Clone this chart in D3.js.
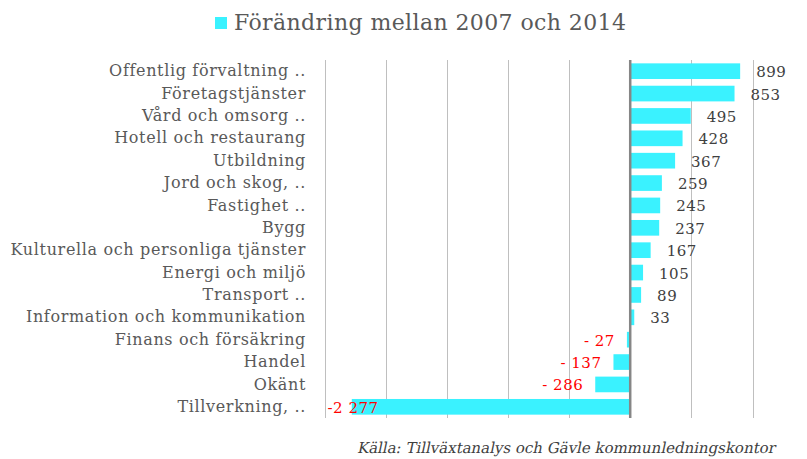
<!DOCTYPE html>
<html>
<head>
<meta charset="utf-8">
<script src="https://cdn.jsdelivr.net/npm/d3@7"></script>
<style>
  body { margin: 0; background: #fff; }
  svg { display: block; font-family: "DejaVu Serif", serif; }
</style>
</head>
<body>
<div id="chart"></div>
<script>
const width = 807, height = 459

const categories = [
    "Offentlig förvaltning ..", "Företagstjänster", "Vård och omsorg ..",
    "Hotell och restaurang", "Utbildning", "Jord och skog, ..", "Fastighet ..",
    "Bygg", "Kulturella och personliga tjänster", "Energi och miljö",
    "Transport ..", "Information och kommunikation", "Finans och försäkring",
    "Handel", "Okänt", "Tillverkning, .."
]
const values = [899, 853, 495, 428, 367, 259, 245, 237, 167, 105, 89, 33, -27, -137, -286, -2277]
const gridTicks = [-2500, -2000, -1500, -1000, -500, 0, 500, 1000]
const seriesName = "Förändring mellan 2007 och 2014"
const source = "Källa: Tillväxtanalys och Gävle kommunledningskontor"

const data = categories.map((c, i) => ({ cat: c, value: values[i] }))

const margin = { top: 60, right: 54, bottom: 41, left: 324.5 }
const barColor = "#3af2ff"

const svg = d3.select("#chart")
    .append("svg")
    .attr("width", width)
    .attr("height", height)

const x = d3.scaleLinear()
    .domain([-2500, 1000])
    .range([margin.left, width - margin.right - 0.5])

const y = d3.scaleBand()
    .domain(categories)
    .range([margin.top, height - margin.bottom])
    .paddingInner(0.3)
    .paddingOuter(0.15)

// gridlines
svg.append("g")
    .selectAll("line")
    .data(gridTicks.filter(t => t !== 0))
    .join("line")
    .attr("x1", d => Math.round(x(d)) + 0.5)
    .attr("x2", d => Math.round(x(d)) + 0.5)
    .attr("y1", margin.top)
    .attr("y2", height - margin.bottom)
    .attr("stroke", "#bfbfbf")
    .attr("stroke-width", 1)

// bars
svg.append("g")
    .selectAll("rect")
    .data(data)
    .join("rect")
    .attr("x", d => x(Math.min(0, d.value)))
    .attr("width", d => Math.abs(x(d.value) - x(0)))
    .attr("y", d => y(d.cat))
    .attr("height", y.bandwidth())
    .attr("fill", barColor)

// zero line
svg.append("line")
    .attr("x1", x(0))
    .attr("x2", x(0))
    .attr("y1", margin.top)
    .attr("y2", height - margin.bottom)
    .attr("stroke", "#868686")
    .attr("stroke-width", 2.5)

// category labels (y axis)
const yAxis = d3.axisLeft(y).tickSize(0).tickPadding(0)
svg.append("g")
    .attr("transform", "translate(306,0)")
    .call(yAxis)
    .call(g => g.select(".domain").remove())
    .selectAll("text")
    .attr("font-family", "DejaVu Serif")
    .attr("font-size", 16)
    .attr("letter-spacing", 0.65)
    .attr("fill", "#595959")

// value labels
const fmtGroup = d3.formatLocale({ decimal: ",", thousands: " ", grouping: [3], currency: ["", ""] }).format(",d")
const fmt = v => v < 0 ? (v <= -1000 ? "-" : "- ") + fmtGroup(-v) : fmtGroup(v)

svg.append("g")
    .selectAll("text")
    .data(data)
    .join("text")
    .attr("x", d => {
        if (d.value >= 0) return x(d.value) + 16
        const end = x(d.value) - 12
        return end - 58 < margin.left ? margin.left + 3 : end
    })
    .attr("y", d => y(d.cat) + y.bandwidth() / 2 + 2)
    .attr("dominant-baseline", "middle")
    .attr("text-anchor", d => {
        if (d.value >= 0) return "start"
        return x(d.value) - 70 < margin.left ? "start" : "end"
    })
    .attr("font-family", "DejaVu Serif")
    .attr("font-size", 15)
    .attr("letter-spacing", 0.5)
    .attr("fill", d => d.value < 0 ? "#ff0000" : "#404040")
    .text(d => fmt(d.value))

// legend
svg.append("rect")
    .attr("x", 215)
    .attr("y", 17)
    .attr("width", 12)
    .attr("height", 12)
    .attr("fill", barColor)

svg.append("text")
    .attr("x", 234)
    .attr("y", 30)
    .attr("font-family", "DejaVu Serif")
    .attr("font-size", 22)
    .attr("letter-spacing", 0.4)
    .attr("fill", "#595959")
    .text(seriesName)

// source, slanted by hand since the serif italic face is not installed
svg.append("text")
    .attr("transform", "translate(775,453) skewX(-12)")
    .attr("text-anchor", "end")
    .attr("font-family", "DejaVu Serif")
    .attr("font-size", 15)
    .attr("fill", "#404040")
    .text(source)
</script>
</body>
</html>
